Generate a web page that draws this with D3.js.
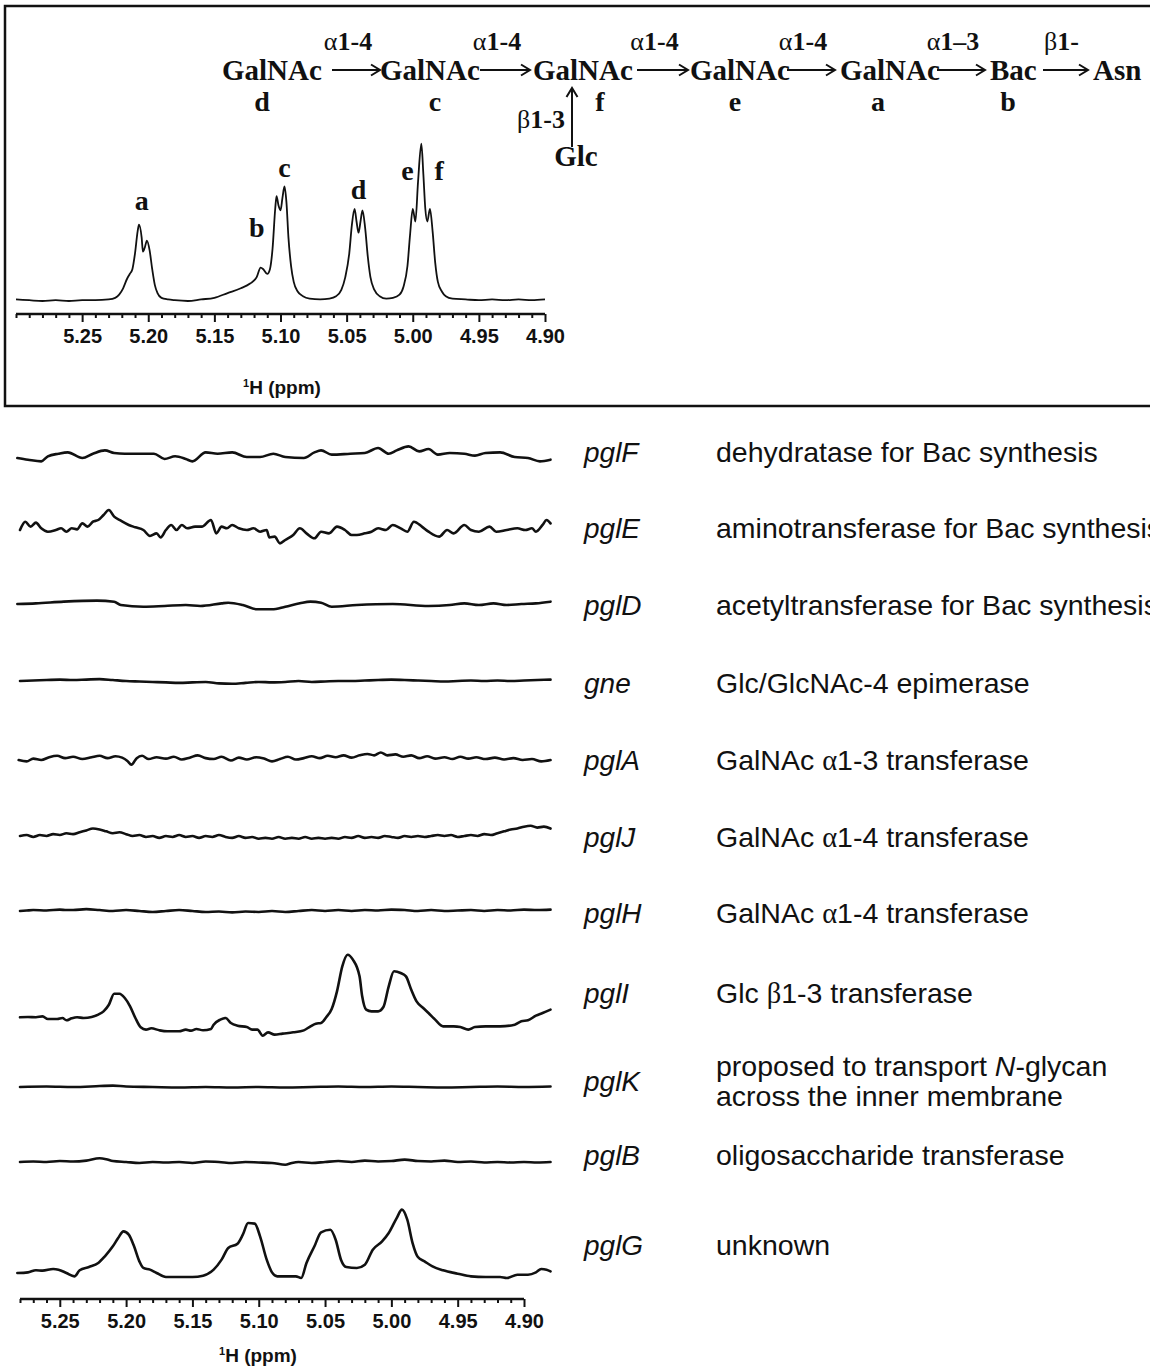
<!DOCTYPE html>
<html><head><meta charset="utf-8">
<script src="https://cdn.jsdelivr.net/npm/d3@7"></script>
<style>body{margin:0;background:#fff}svg{display:block}</style>
</head><body>
<svg id="c" width="1150" height="1367"></svg>
<script>
// ---------------- DATA ----------------
const majorTicks = [5.25, 5.20, 5.15, 5.10, 5.05, 5.00, 4.95, 4.90];
const axisTitle = "H (ppm)";

// reference 1H spectrum [ppm, intensity]
const topSpectrum = [
[5.300,1],[5.290,0.5],[5.280,0],[5.270,0.5],[5.260,0],[5.250,0.5],[5.240,0.5],[5.230,1],[5.225,2],
[5.222,4],[5.219,8],[5.216,14],[5.214,17],[5.212,20],[5.210,30],[5.208,44],[5.207,48],[5.205,40],[5.204,31],[5.2025,34],[5.201,38],[5.199,32],[5.197,20],[5.195,10],[5.193,5],[5.190,2],[5.185,1],
[5.180,0.5],[5.170,0],[5.160,1],[5.150,2],[5.140,5],[5.130,8],[5.123,11],[5.118,15],[5.115,21],[5.113,20],[5.110,17],
[5.108,20],[5.106,33],[5.104,58],[5.103,66],[5.1015,60],[5.100,57],[5.0985,65],[5.097,72],[5.0955,62],[5.094,40],[5.092,22],[5.090,12],[5.087,6],[5.083,3],[5.078,1.5],[5.070,1],[5.063,1.5],
[5.058,3],[5.054,7],[5.051,15],[5.048,30],[5.046,48],[5.044,58],[5.0425,50],[5.041,43],[5.0395,50],[5.038,57],[5.036,46],[5.034,28],[5.032,15],[5.029,7],[5.025,3],[5.020,1.5],[5.015,2],
[5.010,4],[5.007,9],[5.004,22],[5.002,42],[5.000,58],[4.998,50],[4.996,75],[4.9935,99],[4.992,80],[4.9905,58],[4.989,50],[4.987,58],[4.985,44],[4.983,24],[4.981,12],[4.978,6],[4.975,3],[4.970,1.5],[4.960,1],[4.950,0.5],[4.940,1],[4.930,0.5],[4.920,1],[4.910,0.5],[4.900,1]
];
const peakLabels = ["a","b","c","d","e","f"];
const peakLabelPpm = [5.205, 5.118, 5.097, 5.041, 5.004, 4.980];
const peakLabelInt = [57, 40, 78, 64, 76, 76];

// knock-out traces [ppm, intensity]
const pglF = [[5.282,0],[5.274,-1.8],[5.264,-3.6],[5.259,1.8],[5.251,4.6],[5.244,6],[5.233,0],[5.225,4.6],[5.216,8.2],[5.209,5.4],[5.201,4.6],[5.190,4.6],[5.179,4.6],[5.171,-1],[5.163,1.8],[5.155,-1],[5.150,-3.6],[5.140,6],[5.131,4.6],[5.120,6],[5.109,1],[5.099,1],[5.089,4.6],[5.080,1],[5.066,0],[5.058,6],[5.053,8.2],[5.045,3.6],[5.031,4.6],[5.020,5.4],[5.010,10.7],[5.002,4.6],[4.996,8.2],[4.987,12.5],[4.979,7.1],[4.972,9.6],[4.965,3.6],[4.956,5.4],[4.945,4.6],[4.937,2.5],[4.929,5.4],[4.918,6],[4.907,1],[4.897,0],[4.888,-3.6],[4.880,-1.8]];
const pglE = [[5.280,0],[5.276,8.9],[5.272,3.6],[5.268,7.9],[5.264,1.8],[5.259,-1.8],[5.253,0],[5.249,1.8],[5.245,-1.8],[5.241,1.8],[5.237,0.7],[5.233,7.1],[5.229,3.6],[5.225,8.9],[5.221,10.7],[5.217,16.1],[5.213,21.4],[5.209,14.3],[5.204,10],[5.198,5.4],[5.193,2.9],[5.187,0],[5.182,-6.4],[5.177,-3.6],[5.174,-7.9],[5.170,0],[5.166,5.4],[5.162,0],[5.158,5.4],[5.154,1.8],[5.148,3.6],[5.143,3.6],[5.136,10.7],[5.132,-3.6],[5.128,3.6],[5.124,1.8],[5.120,5.4],[5.115,1.8],[5.109,0],[5.104,1.8],[5.099,-1.8],[5.094,0],[5.092,-7.9],[5.088,-7.1],[5.084,-14.3],[5.080,-10.7],[5.074,-5.4],[5.069,1.8],[5.064,-3.6],[5.058,-8.9],[5.053,-1.8],[5.047,-3.6],[5.041,3.6],[5.035,0],[5.030,-5.4],[5.026,-5.4],[5.020,-3.6],[5.015,-1.8],[5.010,1.8],[5.004,0],[4.999,5.4],[4.993,1.8],[4.988,-1.8],[4.983,8.9],[4.977,3.6],[4.972,-1.8],[4.964,-7.1],[4.958,0],[4.953,-3.6],[4.945,5.4],[4.940,0],[4.934,-1.8],[4.926,3.6],[4.921,-1.8],[4.913,0],[4.905,1.8],[4.899,0],[4.894,1.8],[4.891,-1.8],[4.886,5.4],[4.883,10.7],[4.880,7.1]];
const pglD = [[5.282,0],[5.268,0.7],[5.247,2.5],[5.222,3.6],[5.209,2.5],[5.204,-1.1],[5.187,-2.9],[5.171,-2.1],[5.155,-1.1],[5.144,-2.1],[5.128,0.7],[5.123,1.4],[5.112,-1.1],[5.101,-5.7],[5.090,-5.7],[5.080,-2.9],[5.069,0.7],[5.061,2.5],[5.053,1.4],[5.045,-2.9],[5.026,-1.1],[4.999,0],[4.972,-2.1],[4.956,-1.1],[4.945,0.7],[4.934,-1.1],[4.923,0.7],[4.913,-1.1],[4.902,0],[4.891,0.7],[4.880,2.5]];
const gne = [[5.28,0],[5.27,0.5],[5.26,1],[5.25,1.5],[5.24,1],[5.23,1.5],[5.22,2],[5.21,1],[5.20,0],[5.19,-0.5],[5.18,-1],[5.17,-1.5],[5.16,-2],[5.15,-1.5],[5.14,-1],[5.13,-2.5],[5.12,-3],[5.11,-2],[5.10,-1],[5.09,-1.5],[5.08,-1],[5.07,0],[5.06,-1],[5.05,-0.5],[5.04,0],[5.03,0],[5.02,0.5],[5.01,1],[5.00,1.5],[4.99,1],[4.98,0.5],[4.97,0],[4.96,-0.5],[4.95,0],[4.94,0.5],[4.93,0],[4.92,0.5],[4.91,0],[4.90,0.5],[4.89,1],[4.88,1.5]];
const pglA = [[5.281,0],[5.275,-1.5],[5.270,1.5],[5.264,0],[5.258,3],[5.252,4.5],[5.246,2],[5.240,3.5],[5.233,1],[5.226,3],[5.220,4.5],[5.214,2],[5.208,4],[5.203,2.5],[5.199,-1],[5.196,-5],[5.192,2],[5.188,4.5],[5.183,1],[5.177,3],[5.170,1.5],[5.164,3.5],[5.158,0.5],[5.152,2.5],[5.146,5],[5.140,2],[5.134,1],[5.128,3.5],[5.121,-0.5],[5.115,2.5],[5.109,0.5],[5.102,3],[5.096,1.5],[5.090,-1.5],[5.084,1],[5.078,3.5],[5.072,0.5],[5.066,2],[5.060,4],[5.054,2],[5.048,4.5],[5.042,3],[5.036,5],[5.030,2.5],[5.024,5],[5.018,6.5],[5.013,5],[5.008,8],[5.003,5],[4.997,6],[4.991,3.5],[4.985,5],[4.979,2],[4.973,4],[4.967,1.5],[4.960,3],[4.954,1],[4.948,3.5],[4.942,1.5],[4.936,3],[4.929,1],[4.922,2.5],[4.915,0.5],[4.908,2],[4.901,0],[4.894,1],[4.887,-1.5],[4.880,0]];
const pglJ = [[5.280,0],[5.275,1],[5.270,-1],[5.265,1],[5.260,0],[5.255,2],[5.250,1],[5.245,3],[5.240,2],[5.235,4],[5.230,6],[5.225,8],[5.220,7],[5.215,5],[5.210,3],[5.205,4],[5.200,2],[5.195,0],[5.190,1],[5.185,-1],[5.180,0],[5.175,-2],[5.170,0],[5.165,-1],[5.160,1],[5.155,-1],[5.150,0],[5.145,-2],[5.140,0],[5.135,-1],[5.130,1],[5.125,-1],[5.120,-2],[5.115,0],[5.110,-2],[5.105,-1],[5.100,-3],[5.095,-2],[5.090,-3],[5.085,-1],[5.080,-3],[5.075,-2],[5.070,-3],[5.065,-1],[5.060,-3],[5.055,-2],[5.050,-3],[5.045,-2],[5.040,-3],[5.035,-1],[5.030,-2],[5.025,0],[5.020,-2],[5.015,-1],[5.010,-2],[5.005,0],[5.000,-1],[4.995,-2],[4.990,0],[4.985,-1],[4.980,0],[4.975,-1],[4.970,0],[4.965,1],[4.960,0],[4.955,1],[4.950,-1],[4.945,0],[4.940,1],[4.935,0],[4.930,2],[4.925,1],[4.920,3],[4.915,5],[4.910,7],[4.905,8],[4.900,10],[4.895,11],[4.890,9],[4.885,10],[4.880,8]];
const pglH = [[5.280,0],[5.275,0.5],[5.270,1],[5.260,0.5],[5.250,1.5],[5.245,1],[5.240,1],[5.230,2],[5.220,1],[5.210,0],[5.200,1],[5.190,0],[5.180,-1],[5.170,0],[5.160,1],[5.150,0],[5.140,-1],[5.130,-0.5],[5.120,-1.5],[5.110,-0.5],[5.100,-1],[5.090,0],[5.080,-1],[5.070,0],[5.060,1],[5.050,0],[5.040,1],[5.030,0],[5.020,1],[5.010,0.5],[5.000,1.5],[4.990,1],[4.980,0],[4.970,1],[4.960,0],[4.950,0.5],[4.940,1],[4.930,0],[4.920,1],[4.910,0.5],[4.900,1.5],[4.890,1],[4.880,1.5]];
const pglI = [[5.280,6.1],[5.274,6.4],[5.268,6.1],[5.263,7.1],[5.259,4.3],[5.252,4.3],[5.248,5.4],[5.245,2.9],[5.241,5.0],[5.237,6.1],[5.232,5.4],[5.226,6.4],[5.221,9.0],[5.217,12.5],[5.213,19.6],[5.209,31.4],[5.205,31.4],[5.201,26.8],[5.197,17.9],[5.193,5.4],[5.189,-4.6],[5.185,-7.1],[5.181,-5.7],[5.175,-7.8],[5.169,-8.9],[5.160,-8.9],[5.155,-7.1],[5.151,-8.2],[5.147,-6.4],[5.142,-7.8],[5.136,-6.4],[5.134,-1.8],[5.129,3.6],[5.125,5.4],[5.121,0],[5.116,-2.9],[5.109,-4.3],[5.105,-7.1],[5.101,-7.1],[5.097,-13.6],[5.093,-10],[5.088,-12.5],[5.082,-11.4],[5.074,-10],[5.066,-7.9],[5.061,-3.6],[5.057,-0.7],[5.053,0],[5.049,6.4],[5.045,15],[5.041,33.9],[5.037,60.7],[5.033,73.2],[5.029,67.9],[5.024,50],[5.022,28.6],[5.019,14.3],[5.015,12.5],[5.010,12.5],[5.006,17.1],[5.002,39.3],[4.998,55.4],[4.993,53.6],[4.989,50],[4.985,35.7],[4.981,23.2],[4.976,16.1],[4.972,10.7],[4.967,3.6],[4.961,-3.6],[4.953,-3.6],[4.948,-4.3],[4.942,-7.1],[4.937,-4.3],[4.929,-3.6],[4.918,-3.6],[4.907,-1.8],[4.902,1.8],[4.897,2.9],[4.891,7.9],[4.886,10.7],[4.880,14.3]];
const pglK = [[5.28,0],[5.26,0.5],[5.24,0],[5.22,1],[5.21,1.5],[5.20,0.5],[5.18,0],[5.16,-0.5],[5.14,0],[5.12,-0.5],[5.10,0],[5.08,-0.5],[5.06,0],[5.04,0.5],[5.02,0],[5.00,0.5],[4.98,0],[4.96,-0.5],[4.94,0],[4.92,0.5],[4.90,0],[4.88,0.5]];
const pglB = [[5.280,0],[5.270,0.5],[5.260,0],[5.250,1],[5.240,0.5],[5.230,1.5],[5.220,4],[5.215,3],[5.210,1],[5.200,0],[5.190,-1],[5.180,0],[5.170,-0.5],[5.160,0],[5.150,-1],[5.140,0.5],[5.130,0],[5.120,-1],[5.110,0],[5.100,-0.5],[5.090,-1],[5.080,-3],[5.075,-1],[5.070,0],[5.060,-1],[5.050,0],[5.040,1],[5.030,0],[5.020,1.5],[5.010,0.5],[5.000,1],[4.990,2.5],[4.980,1],[4.970,0.5],[4.960,1.5],[4.950,0],[4.940,0.5],[4.930,-0.5],[4.920,0],[4.910,-0.5],[4.900,0],[4.890,-0.5],[4.880,0]];
const pglG = [[5.282,0],[5.274,0.7],[5.268,2.9],[5.263,2.5],[5.255,4.3],[5.251,3.6],[5.245,0],[5.239,-3.6],[5.235,2.9],[5.228,6.4],[5.221,10.7],[5.216,17.9],[5.210,28.6],[5.206,37.5],[5.202,44.6],[5.198,41.1],[5.194,28.6],[5.190,12.5],[5.187,5.4],[5.182,3.6],[5.177,0],[5.170,-4.3],[5.160,-4.3],[5.150,-4.3],[5.142,-2.9],[5.134,3.6],[5.128,14.3],[5.123,26.8],[5.116,31.4],[5.112,41.1],[5.108,53.6],[5.103,52.9],[5.099,39.3],[5.094,14.3],[5.090,0.7],[5.086,-3.6],[5.080,-3.6],[5.072,-3.6],[5.068,-5.4],[5.064,10.7],[5.058,28.6],[5.053,43.6],[5.046,46.4],[5.042,35.7],[5.038,14.3],[5.034,6.4],[5.026,5.4],[5.020,8.9],[5.014,25],[5.007,33.9],[5.002,42.9],[4.996,58.9],[4.992,67.9],[4.988,57.1],[4.984,32.1],[4.980,17.1],[4.975,12.5],[4.969,7.1],[4.961,2.9],[4.950,-0.7],[4.940,-3.6],[4.929,-4.3],[4.918,-4.3],[4.913,-5.4],[4.905,-1.8],[4.897,-1.8],[4.891,0.7],[4.887,4.3],[4.883,3.6],[4.880,1.8]];

const geneNames = ["pglF","pglE","pglD","gne","pglA","pglJ","pglH","pglI","pglK","pglB","pglG"];
const traces = [pglF, pglE, pglD, gne, pglA, pglJ, pglH, pglI, pglK, pglB, pglG];
// description lines; each line is a list of [text, style] runs (g = Greek serif, i = italic)
const descriptions = [
  [[["dehydratase for Bac synthesis"]]],
  [[["aminotransferase for Bac synthesis"]]],
  [[["acetyltransferase for Bac synthesis"]]],
  [[["Glc/GlcNAc-4 epimerase"]]],
  [[["GalNAc "],["α","g"],["1-3 transferase"]]],
  [[["GalNAc "],["α","g"],["1-4 transferase"]]],
  [[["GalNAc "],["α","g"],["1-4 transferase"]]],
  [[["Glc "],["β","g"],["1-3 transferase"]]],
  [[["proposed to transport "],["N","i"],["-glycan"]],[["across the inner membrane"]]],
  [[["oligosaccharide transferase"]]],
  [[["unknown"]]]
];

// glycan scheme
const residues = ["GalNAc","GalNAc","GalNAc","GalNAc","GalNAc","Bac","Asn"];
const residueLetters = ["d","c","f","e","a","b",""];
const linkages = [["α","1-4"],["α","1-4"],["α","1-4"],["α","1-4"],["α","1–3"],["β","1-"]];
const branch = {residue:"Glc", link:["β","1-3"]};

// ---------------- LAYOUT ----------------
const svg = d3.select("#c");
const SANS = "'Liberation Sans', Arial, Helvetica, sans-serif";
const SERIF = "'Liberation Serif', 'Times New Roman', serif";

svg.append("rect").attr("x",5).attr("y",6).attr("width",1170).attr("height",400)
  .attr("fill","none").attr("stroke","#111").attr("stroke-width",2.5);

// ---- scheme ----
const resX = [222, 380, 533, 690, 840, 990, 1093];
const letterX = [262, 435, 600, 735, 878, 1008];
const arrowSeg = [[332,380],[480,530],[637,688],[787,835],[937,985],[1043,1088]];
const scheme = svg.append("g");
function arrowR(g,x1,x2,y){
  g.append("line").attr("x1",x1).attr("x2",x2-1).attr("y1",y).attr("y2",y).attr("stroke","#111").attr("stroke-width",2);
  g.append("path").attr("d",`M${x2-9},${y-5.5}L${x2},${y}L${x2-9},${y+5.5}`).attr("fill","none").attr("stroke","#111").attr("stroke-width",2);
}
residues.forEach((r,i)=>{
  scheme.append("text").attr("x",resX[i]).attr("y",80).attr("font-family",SERIF).attr("font-weight","bold")
    .attr("font-size",29).attr("fill","#111").text(r);
});
residueLetters.forEach((l,i)=>{
  if(!l) return;
  scheme.append("text").attr("x",letterX[i]).attr("y",111).attr("text-anchor","middle").attr("font-family",SERIF)
    .attr("font-weight","bold").attr("font-size",28).attr("fill","#111").text(l);
});
linkages.forEach((lk,i)=>{
  arrowR(scheme, arrowSeg[i][0], arrowSeg[i][1], 70);
  const cx = (arrowSeg[i][0]+arrowSeg[i][1])/2 - 8 + (i===5?4:0);
  const t = scheme.append("text").attr("x",cx).attr("y",50).attr("text-anchor","middle").attr("font-family",SERIF)
    .attr("font-size",26).attr("fill","#111");
  t.append("tspan").attr("font-weight","normal").text(lk[0]);
  t.append("tspan").attr("font-weight","bold").text(lk[1]);
});
scheme.append("line").attr("x1",572).attr("x2",572).attr("y1",147).attr("y2",88).attr("stroke","#111").attr("stroke-width",2);
scheme.append("path").attr("d","M566.5,97L572,88L577.5,97").attr("fill","none").attr("stroke","#111").attr("stroke-width",2);
const bt = scheme.append("text").attr("x",565).attr("y",128).attr("text-anchor","end").attr("font-family",SERIF).attr("font-size",26).attr("fill","#111");
bt.append("tspan").text(branch.link[0]);
bt.append("tspan").attr("font-weight","bold").text(branch.link[1]);
scheme.append("text").attr("x",576).attr("y",166).attr("text-anchor","middle").attr("font-family",SERIF)
  .attr("font-weight","bold").attr("font-size",29).attr("fill","#111").text(branch.residue);

// ---- top spectrum ----
const xTop = d3.scaleLinear().domain([5.30,4.90]).range([16,545]);
const yTop = d3.scaleLinear().domain([0,100]).range([301,142]);
svg.append("path").datum(topSpectrum)
  .attr("d", d3.line().x(d=>xTop(d[0])).y(d=>yTop(d[1])).curve(d3.curveMonotoneX))
  .attr("fill","none").attr("stroke","#111").attr("stroke-width",1.8).attr("stroke-linejoin","round");
peakLabels.forEach((l,i)=>{
  svg.append("text").attr("x",xTop(peakLabelPpm[i])).attr("y",yTop(peakLabelInt[i]))
    .attr("text-anchor","middle").attr("font-family",SERIF).attr("font-weight","bold").attr("font-size",28).attr("fill","#111").text(l);
});

function drawAxis(x, y){
  const g = svg.append("g").attr("transform",`translate(0,${y})`);
  const minor = x.ticks(40).filter(t=>!majorTicks.some(m=>Math.abs(m-t)<1e-6));
  g.append("g").call(d3.axisBottom(x).tickValues(minor).tickSize(4).tickSizeOuter(0).tickFormat(""))
    .call(s=>s.select(".domain").remove());
  const maj = g.append("g").call(d3.axisBottom(x).tickValues(majorTicks).tickSize(8).tickSizeOuter(0).tickPadding(7).tickFormat(d3.format(".2f")));
  maj.select(".domain").remove();
  g.append("line").attr("x1",x.range()[0]).attr("x2",x.range()[1]).attr("stroke","#111").attr("stroke-width",2.5);
  g.selectAll(".tick line").attr("stroke","#111").attr("stroke-width",2);
  g.selectAll(".tick text").attr("font-family",SANS).attr("font-weight","bold").attr("font-size",20).attr("fill","#111");
}
function axisLabel(cx, cy){
  const t = svg.append("text").attr("x",cx).attr("y",cy).attr("text-anchor","middle")
    .attr("font-family",SANS).attr("font-weight","bold").attr("font-size",19).attr("fill","#111");
  t.append("tspan").attr("font-size",11).attr("dy",-7).text("1");
  t.append("tspan").attr("dy",7).text(axisTitle);
}
drawAxis(xTop, 314);
axisLabel(282, 394);

// ---- knock-out traces ----
const xBot = d3.scaleLinear().domain([5.28,4.90]).range([20,524]);
const amp = d3.scaleLinear().domain([0,100]).range([0,-93.3]);
const rowBase = [458, 530, 604, 681, 760, 836, 911, 1023, 1087, 1162, 1273];
const labelY = [452, 528, 605, 683, 760, 837, 913, 993, 1081, 1155, 1245];
const line = d3.line().curve(d3.curveMonotoneX);
traces.forEach((tr,i)=>{
  svg.append("path").attr("d", line(tr.map(d=>[xBot(d[0]), rowBase[i]+amp(d[1])])))
    .attr("fill","none").attr("stroke","#111").attr("stroke-width",2.6).attr("stroke-linejoin","round").attr("stroke-linecap","round");
});
geneNames.forEach((g,i)=>{
  svg.append("text").attr("x",584).attr("y",labelY[i]+10).attr("font-family",SANS).attr("font-style","italic")
    .attr("font-size",28).attr("fill","#111").text(g);
  const lines = descriptions[i];
  const n = lines.length;
  lines.forEach((runs,k)=>{
    const by = labelY[i] + 10 + (k - (n-1)/2) * 30;
    const t = svg.append("text").attr("x",716).attr("y",by).attr("font-family",SANS).attr("font-size",28.5).attr("fill","#111");
    runs.forEach(p=>{
      const s = t.append("tspan").text(p[0]);
      if(p[1]==="g") s.attr("font-family",SERIF);
      if(p[1]==="i") s.attr("font-style","italic");
    });
  });
});
drawAxis(xBot, 1299);
axisLabel(258, 1362);
</script>
</body></html>
